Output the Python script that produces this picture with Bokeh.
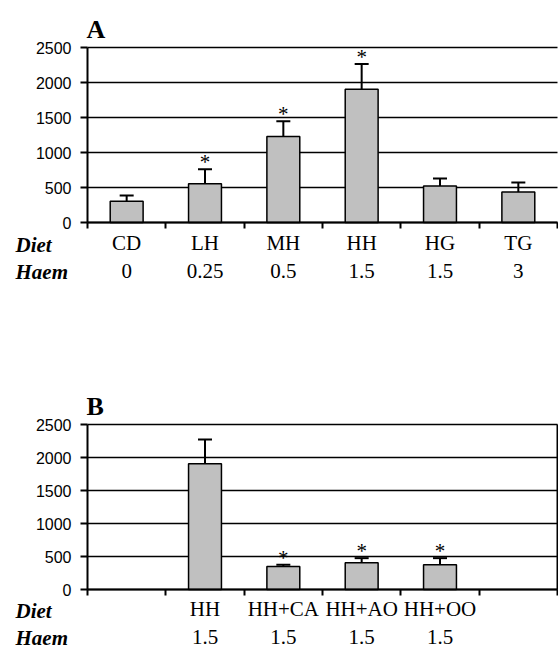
from bokeh.plotting import figure
from bokeh.models import ColumnDataSource, FixedTicker, Whisker, TeeHead, Range1d
from bokeh.layouts import column
from bokeh.embed import file_html
from bokeh.resources import INLINE
from bokeh.core.properties import value

# ---- data ----
yticks = [0, 500, 1000, 1500, 2000, 2500]

a_diet = ["CD", "LH", "MH", "HH", "HG", "TG"]
a_haem = ["0", "0.25", "0.5", "1.5", "1.5", "3"]
a_mean = [305, 552, 1230, 1905, 520, 435]
a_err = [82, 208, 218, 358, 110, 138]
a_sig = [False, True, True, True, False, False]

b_slots = ["", "HH", "HH+CA", "HH+AO", "HH+OO", ""]
b_haem = ["", "1.5", "1.5", "1.5", "1.5", ""]
b_diet = ["HH", "HH+CA", "HH+AO", "HH+OO"]
b_mean = [1905, 350, 405, 375]
b_err = [367, 25, 70, 100]
b_sig = [False, True, True, True]

row_names = ["Diet", "Haem"]

SERIF = "Liberation Serif"
SANS = "Liberation Sans"

# ---- layout (pixels) ----
W = 558
FRAME_L, FRAME_R = 87, 557


def panel(letter, slots, haem, diets, means, errs, sig, height, top, bottom,
          standoff, rows_off, right_line):
    n = len(slots)
    unit = (FRAME_R - FRAME_L) / n
    ppu = (bottom - top) / yticks[-1]
    xr = Range1d(-0.5 - FRAME_L / unit, n - 0.5 + (W - FRAME_R) / unit)
    yr = Range1d(-(height - bottom) / ppu, yticks[-1] + top / ppu)
    p = figure(width=W, height=height, x_range=xr, y_range=yr,
               output_backend="svg", toolbar_location=None,
               min_border=0, min_border_left=0, min_border_right=0,
               min_border_top=0, min_border_bottom=0)
    p.outline_line_color = None
    p.background_fill_color = "white"
    p.border_fill_color = "white"
    p.xgrid.visible = False
    p.ygrid.visible = False

    # horizontal gridlines across the plot area
    p.segment(x0=-0.5, x1=n - 0.5, y0=yticks, y1=yticks,
              line_color="black", line_width=1.5)
    if right_line:
        p.segment(x0=[n - 0.5], x1=[n - 0.5], y0=[0], y1=[yticks[-1]],
                  line_color="black", line_width=2)

    xs = [slots.index(d) for d in diets]
    src = ColumnDataSource(dict(x=xs, top=means,
                                upper=[m + e for m, e in zip(means, errs)],
                                star=["*" if s else "" for s in sig]))
    p.vbar(x="x", top="top", bottom=0, width=0.42, source=src,
           fill_color="#c0c0c0", line_color="black", line_width=1.5)
    p.add_layout(Whisker(base="x", lower="top", upper="upper", source=src,
                         upper_head=TeeHead(size=14, line_width=2, line_color="black"),
                         lower_head=None, line_width=2, line_color="black"))
    p.text(x="x", y="upper", text="star", source=src, text_align="center",
           text_baseline="bottom", y_offset=5, text_font=value(SERIF),
           text_font_size="21px", text_color="black")

    ya = p.yaxis[0]
    ya.fixed_location = -0.5
    ya.bounds = (0, yticks[-1])
    ya.ticker = FixedTicker(ticks=yticks)
    ya.major_tick_out = 7
    ya.major_tick_in = 0
    ya.minor_tick_out = 0
    ya.minor_tick_in = 0
    ya.axis_line_width = 2
    ya.major_tick_line_width = 2
    ya.major_label_text_font = SANS
    ya.major_label_text_font_size = "16px"
    ya.major_label_text_color = "black"
    ya.major_label_standoff = 9

    xa = p.xaxis[0]
    xa.fixed_location = 0
    xa.bounds = (-0.5, n - 0.5)
    xa.ticker = FixedTicker(ticks=list(range(n)),
                            minor_ticks=[i - 0.5 for i in range(n + 1)])
    xa.major_tick_out = 0
    xa.major_tick_in = 0
    xa.minor_tick_out = 6
    xa.minor_tick_in = 0
    xa.minor_tick_line_width = 2
    xa.axis_line_width = 2
    xa.major_label_overrides = {i: f"{slots[i]}\n{haem[i]}" for i in range(n)}
    xa.major_label_text_font = SERIF
    xa.major_label_text_font_size = "21px"
    xa.major_label_text_color = "black"
    xa.major_label_standoff = standoff

    # panel letter
    p.text(x=[-0.5], y=[yticks[-1]], text=[letter], x_offset=-1, y_offset=-18,
           text_align="left", text_baseline="middle",
           text_font=value(SERIF), text_font_style=value("bold"),
           text_font_size="26px", text_color="black")
    # row captions
    for name, off in zip(row_names, rows_off):
        p.text(x=[-0.5], y=[0], text=[name], x_offset=-72, y_offset=off,
               text_align="left", text_baseline="middle",
               text_font=value(SERIF), text_font_style=value("bold italic"),
               text_font_size="21px", text_color="black")
    return p


pA = panel("A", a_diet, a_haem, a_diet, a_mean, a_err, a_sig,
           300, 47, 222, 2, (22, 49), False)
pB = panel("B", b_slots, b_haem, b_diet, b_mean, b_err, b_sig,
           352, 124, 289, 1, (21, 48), True)

layout = column(pA, pB)
open("out.html", "w").write(file_html(layout, INLINE))
